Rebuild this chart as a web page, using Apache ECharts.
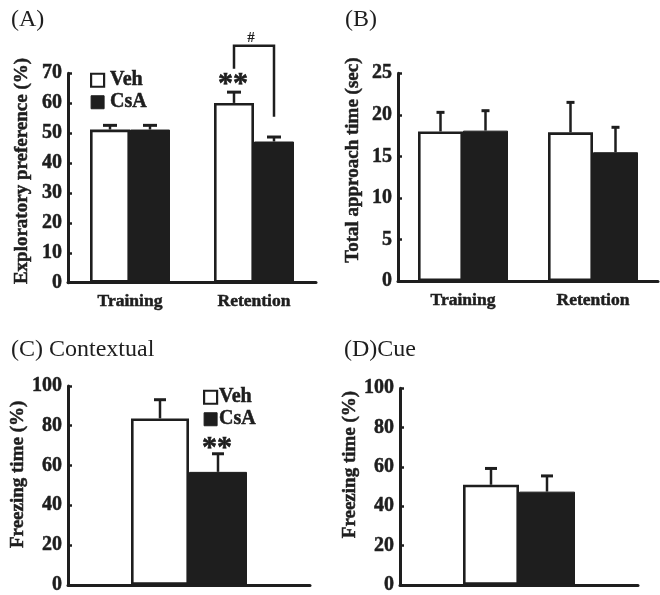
<!DOCTYPE html>
<html><head><meta charset="utf-8">
<script src="https://cdn.jsdelivr.net/npm/echarts@6/dist/echarts.min.js"></script>
<style>html,body{margin:0;padding:0;background:#fff}#c{width:660px;height:595px}</style>
</head><body><div id="c"></div>
<script>
// ---- data ----
const catsAB = ['Training', 'Retention'];
const catsCD = [''];
const groups = ['Veh', 'CsA'];

const aVeh = [51.2, 60.1];
const aVehErr = [1.4, 3.6];
const aCsA = [51.2, 47.2];
const aCsAErr = [1.4, 1.5];

const bVeh = [18.0, 17.9];
const bVehErr = [2.3, 3.6];
const bCsA = [18.1, 15.5];
const bCsAErr = [2.4, 3.0];

const cVeh = [83.7];
const cVehErr = [9.4];
const cCsA = [56.8];
const cCsAErr = [9.1];

const dVeh = [50.9];
const dVehErr = [8.3];
const dCsA = [47.4];
const dCsAErr = [8.0];

const aTicks = [0, 70, 10];
const bTicks = [0, 25, 5];
const cdTicks = [0, 100, 20];

const titles = ['(A)', '(B)', '(C) Contextual', '(D)Cue'];
const yNames = ['Exploratory preference (%)', 'Total approach time (sec)', 'Freezing time (%)', 'Freezing time (%)'];

// significance: [panel, category, side(-1 veh, +1 csa), value, text]
const stars = [[0, 1, -1, 67.6, '**'], [2, 0, 1, 70.5, '**']];
// bracket: [category, left leg bottom, right leg bottom, top]
const bracketA = [[1, 71.5, 55.5, 79.2]];
const bracketText = '#';

// ---- styling ----
const INK = '#1e1e1e';
const SERIF = '"Liberation Serif", "Times New Roman", serif';
const barW = [40, 45, 58, 56];
const capHalf = [7, 4, 6, 6];
// name shifts (px, upward) and gaps
const nameShift = [7, 17, 11, 22];
const nameGaps = [36, 35, 38, 40];

const grids = [
  {left: 68, top: 73.3, width: 248, height: 209.4},
  {left: 398, top: 73.3, width: 260, height: 207.7},
  {left: 68, top: 386, width: 242, height: 202.3},
  {left: 400, top: 388.3, width: 238, height: 198.4}
];

const bold = {textBorderColor: INK, textBorderWidth: 0.5};

function yAxis(i, t) {
  return {
    gridIndex: i, type: 'value', min: t[0], max: t[1], interval: t[2],
    name: yNames[i], nameLocation: 'middle', nameGap: nameGaps[i],
    nameTextStyle: Object.assign({fontFamily: SERIF, fontWeight: 'bold', fontSize: 19, color: INK,
      padding: [0, 0, 0, 2 * nameShift[i]]}, bold),
    axisLine: {show: true, lineStyle: {color: INK, width: 3}},
    axisTick: {show: true, inside: true, length: 4, lineStyle: {color: INK, width: 2.5}},
    splitLine: {show: false},
    axisLabel: Object.assign({fontFamily: SERIF, fontWeight: 'bold', fontSize: 20, color: INK, margin: 6}, bold)
  };
}
function xAxis(i, cats, showLabel) {
  return {
    gridIndex: i, type: 'category', data: cats,
    axisLine: {show: true, lineStyle: {color: INK, width: 3}},
    axisTick: {show: false},
    axisLabel: Object.assign({show: showLabel, fontFamily: SERIF, fontWeight: 'bold', fontSize: 17.5, color: INK, margin: 10}, bold)
  };
}

const vehStyle = {color: '#fff', borderColor: INK, borderWidth: 2.6};
const csaStyle = {color: INK, borderColor: INK, borderWidth: 1};

function bars(i, veh, csa) {
  return [
    {name: 'Veh', type: 'bar', xAxisIndex: i, yAxisIndex: i, data: veh, barWidth: barW[i], barGap: '0%', itemStyle: vehStyle, z: 2},
    {name: 'CsA', type: 'bar', xAxisIndex: i, yAxisIndex: i, data: csa, barWidth: barW[i], barGap: '0%', itemStyle: csaStyle, z: 2}
  ];
}
function errs(i, vals, errsArr, side) {
  return {
    type: 'custom', xAxisIndex: i, yAxisIndex: i, z: 5, silent: true,
    data: vals.map((v, k) => [k, v, errsArr[k]]),
    renderItem: function (params, api) {
      const p0 = api.coord([api.value(0), api.value(1)]);
      const p1 = api.coord([api.value(0), api.value(1) + api.value(2)]);
      const x = p0[0] + side * barW[i] / 2;
      const cap = capHalf[i];
      return {type: 'group', children: [
        {type: 'line', shape: {x1: x, y1: p0[1], x2: x, y2: p1[1]}, style: {stroke: INK, lineWidth: 2.5}},
        {type: 'line', shape: {x1: x - cap, y1: p1[1], x2: x + cap, y2: p1[1]}, style: {stroke: INK, lineWidth: 3}}
      ]};
    }
  };
}

const series = [];
series.push(...bars(0, aVeh, aCsA), errs(0, aVeh, aVehErr, -1), errs(0, aCsA, aCsAErr, 1));
series.push(...bars(1, bVeh, bCsA), errs(1, bVeh, bVehErr, -1), errs(1, bCsA, bCsAErr, 1));
series.push(...bars(2, cVeh, cCsA), errs(2, cVeh, cVehErr, -1), errs(2, cCsA, cCsAErr, 1));
series.push(...bars(3, dVeh, dCsA), errs(3, dVeh, dVehErr, -1), errs(3, dCsA, dCsAErr, 1));

// stars
stars.forEach(function (s) {
  const i = s[0];
  series.push({
    type: 'custom', xAxisIndex: i, yAxisIndex: i, z: 6, silent: true,
    data: [[s[1], s[3]]],
    renderItem: function (params, api) {
      const p = api.coord([api.value(0), api.value(1)]);
      return {type: 'text', style: {text: s[4], x: p[0] + s[2] * barW[i] / 2 - 1, y: p[1] + 4,
        align: 'center', verticalAlign: 'middle', font: 'bold 30px ' + SERIF, fill: INK,
        stroke: INK, lineWidth: 0.6}};
    }
  });
});

// bracket in panel A
series.push({
  type: 'custom', xAxisIndex: 0, yAxisIndex: 0, z: 6, silent: true,
  data: bracketA,
  renderItem: function (params, api) {
    const c = api.value(0);
    const pl = api.coord([c, api.value(1)]);
    const pr = api.coord([c, api.value(2)]);
    const pt = api.coord([c, api.value(3)]);
    const xl = pl[0] - barW[0] / 2, xr = pl[0] + barW[0] / 2;
    return {type: 'group', children: [
      {type: 'polyline', shape: {points: [[xl, pl[1]], [xl, pt[1]], [xr, pt[1]], [xr, pr[1]]]},
        style: {stroke: INK, lineWidth: 2.5, fill: null}},
      {type: 'text', style: {text: bracketText, x: pl[0] - 3, y: pt[1] - 8, align: 'center', verticalAlign: 'middle',
        font: 'bold 15px ' + SERIF, fill: INK}}
    ]};
  }
});

const legendData = [
  {name: 'Veh', itemStyle: {color: '#fff', borderColor: INK, borderWidth: 2.2}},
  {name: 'CsA', itemStyle: {color: INK, borderColor: INK, borderWidth: 1}}
];
function legend(left, top, textPad) {
  return {left: left, top: top, orient: 'vertical', icon: 'rect', itemWidth: 13, itemHeight: 13,
    itemGap: 1.5, padding: 0, selectedMode: false, data: legendData,
    textStyle: Object.assign({fontFamily: SERIF, fontWeight: 'bold', fontSize: 20, color: INK, padding: [0, 0, 0, textPad]}, bold)};
}

const titleStyle = {fontFamily: SERIF, fontWeight: 'normal', fontSize: 24, color: INK};
const option = {
  animation: false,
  backgroundColor: '#fff',
  title: [
    {text: titles[0], left: 11, top: 8, padding: 0, textStyle: titleStyle},
    {text: titles[1], left: 345, top: 8, padding: 0, textStyle: titleStyle},
    {text: titles[2], left: 11, top: 338, padding: 0, textStyle: titleStyle},
    {text: titles[3], left: 344, top: 338, padding: 0, textStyle: titleStyle}
  ],
  legend: [legend(90, 70, 1), legend(203, 387, -3)],
  grid: grids,
  xAxis: [xAxis(0, catsAB, true), xAxis(1, catsAB, true), xAxis(2, catsCD, false), xAxis(3, catsCD, false)],
  yAxis: [yAxis(0, aTicks), yAxis(1, bTicks), yAxis(2, cdTicks), yAxis(3, cdTicks)],
  series: series
};
const chart = echarts.init(document.getElementById('c'), null, {renderer: 'canvas'});
chart.setOption(option);
</script></body></html>
